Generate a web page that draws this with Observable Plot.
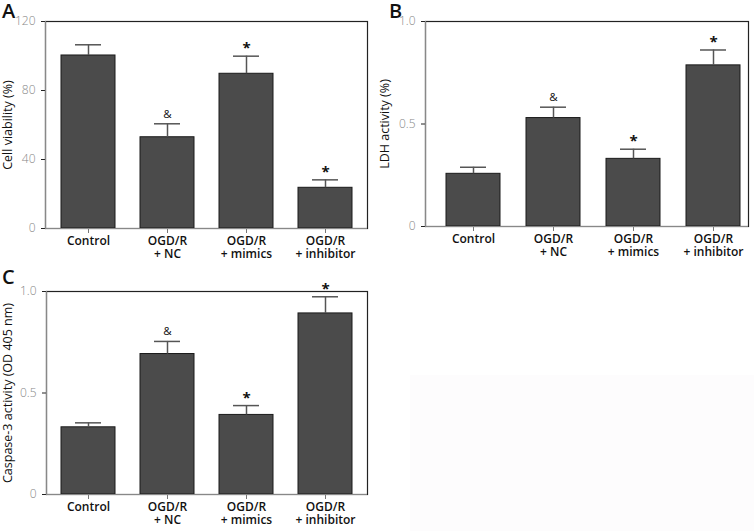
<!DOCTYPE html>
<html><head><meta charset="utf-8">
<script src="https://cdn.jsdelivr.net/npm/d3@7"></script>
<script src="https://cdn.jsdelivr.net/npm/@observablehq/plot@0.6"></script>
<style>
body{margin:0;background:#fff;}
#wrap{position:relative;width:754px;height:531px;overflow:hidden;font-family:"Open Sans",sans-serif;}
.panel{position:absolute;}
.letter{position:absolute;font-size:20px;font-weight:600;line-height:1.1;color:#111;}
.blank{position:absolute;left:410px;top:375px;width:344px;height:156px;background:#fdfcfd;}
</style></head><body><div id="wrap"><div class="blank"></div></div>
<script>
const groups = ["Control", "OGD/R\n+ NC", "OGD/R\n+ mimics", "OGD/R\n+ inhibitor"];

const viability = [100.3, 52.9, 89.7, 23.6];
const viabilityErr = [6.2, 7.8, 10.2, 4.6];
const viabilityMarks = ["", "&", "*", "*"];
const viabilityTicks = [0, 40, 80, 120];

const ldh = [0.257, 0.529, 0.330, 0.786];
const ldhErr = [0.032, 0.053, 0.047, 0.075];
const ldhMarks = ["", "&", "*", "*"];
const ldhTicks = [0, 0.5, 1.0];

const caspase = [0.331, 0.692, 0.392, 0.892];
const caspaseErr = [0.022, 0.062, 0.046, 0.082];
const caspaseMarks = ["", "&", "*", "*"];
const caspaseTicks = [0, 0.5, 1.0];

const fmtInt = d => String(d);
const fmtDec = d => d === 0 ? "0" : d.toFixed(1);

function panel(cfg) {
  const data = groups.map((g, i) => ({g, v: cfg.values[i], e: cfg.errs[i], m: cfg.marks[i]}));
  const top = d => d.v + d.e;
  return Plot.plot({
    width: cfg.width, height: cfg.height,
    marginLeft: cfg.ml, marginRight: cfg.mr, marginTop: cfg.mt, marginBottom: cfg.mb,
    style: {fontFamily: "'Open Sans', sans-serif", fontSize: "11px", color: "#222", background: "transparent", overflow: "visible"},
    x: {domain: groups, paddingInner: 0.32, paddingOuter: 0.175, align: cfg.align ?? 0.5, label: null},
    y: {domain: cfg.domain, label: null},
    marks: [
      Plot.frame({stroke: "#222", strokeWidth: 1.2}),
      Plot.barY(data, {x: "g", y: "v", fill: "#4b4b4b", stroke: "#1a1a1a", strokeWidth: 1}),
      Plot.ruleX(data, {x: "g", y1: "v", y2: top, stroke: "#555", strokeWidth: 1.5}),
      Plot.tickY(data, {x: "g", y: top, stroke: "#555", strokeWidth: 1.5, insetLeft: 14, insetRight: 14}),
      Plot.text(data.filter(d => d.m === "*"), {x: "g", y: top, text: "m", lineAnchor: "bottom", dy: -3, fontSize: 15, fontWeight: "bold", fill: "#111"}),
      Plot.text(data.filter(d => d.m === "&"), {x: "g", y: top, text: "m", lineAnchor: "bottom", dy: -6, fontSize: 11.5, fill: "#111"}),
      Plot.axisX({tickSize: 5, tickPadding: 2, fontWeight: 600, fontSize: 12, lineHeight: 1.1, stroke: "#777", fill: "#111"}),
      Plot.axisY({ticks: cfg.ticks, tickFormat: cfg.fmt, tickSize: 4, tickPadding: 6, fill: "#888", stroke: "#222", fontSize: 12, fontWeight: 300, label: null}),
      Plot.axisY({ticks: [], tickSize: 0, label: cfg.label, labelAnchor: "center", labelArrow: "none", fill: "#111", fontSize: 12.5}),
      Plot.ruleY([0], {stroke: "#888", strokeWidth: 1.2}),
      Plot.frame({anchor: "left", stroke: "#888", strokeWidth: 1.2})
    ]
  });
}

const wrap = document.getElementById("wrap");
function place(node, left, top) {
  node.classList.add("panel");
  node.style.left = left + "px";
  node.style.top = top + "px";
  wrap.appendChild(node);
}
function letter(t, left, top) {
  const d = document.createElement("div");
  d.className = "letter"; d.textContent = t;
  d.style.left = left + "px"; d.style.top = top + "px";
  wrap.appendChild(d);
}

place(panel({values: viability, errs: viabilityErr, marks: viabilityMarks, ticks: viabilityTicks, fmt: fmtInt,
  domain: [0, 120], label: "Cell viability (%)", width: 377, height: 265, ml: 45, mr: 10, mt: 21, mb: 37}), 0, 0);
place(panel({values: ldh, errs: ldhErr, marks: ldhMarks, ticks: ldhTicks, fmt: fmtDec,
  domain: [0, 1], label: "LDH activity (%)", width: 377, height: 265, ml: 48, mr: 6, mt: 21, mb: 39, align: 0.74}), 377, 0);
place(panel({values: caspase, errs: caspaseErr, marks: caspaseMarks, ticks: caspaseTicks, fmt: fmtDec,
  domain: [0, 1], label: "Caspase-3 activity (OD 405 nm)", width: 377, height: 266, ml: 46, mr: 10, mt: 26, mb: 37}), 0, 265);

letter("A", 2, 0);
letter("B", 389, 0);
letter("C", 2, 266);
</script>
</body></html>
